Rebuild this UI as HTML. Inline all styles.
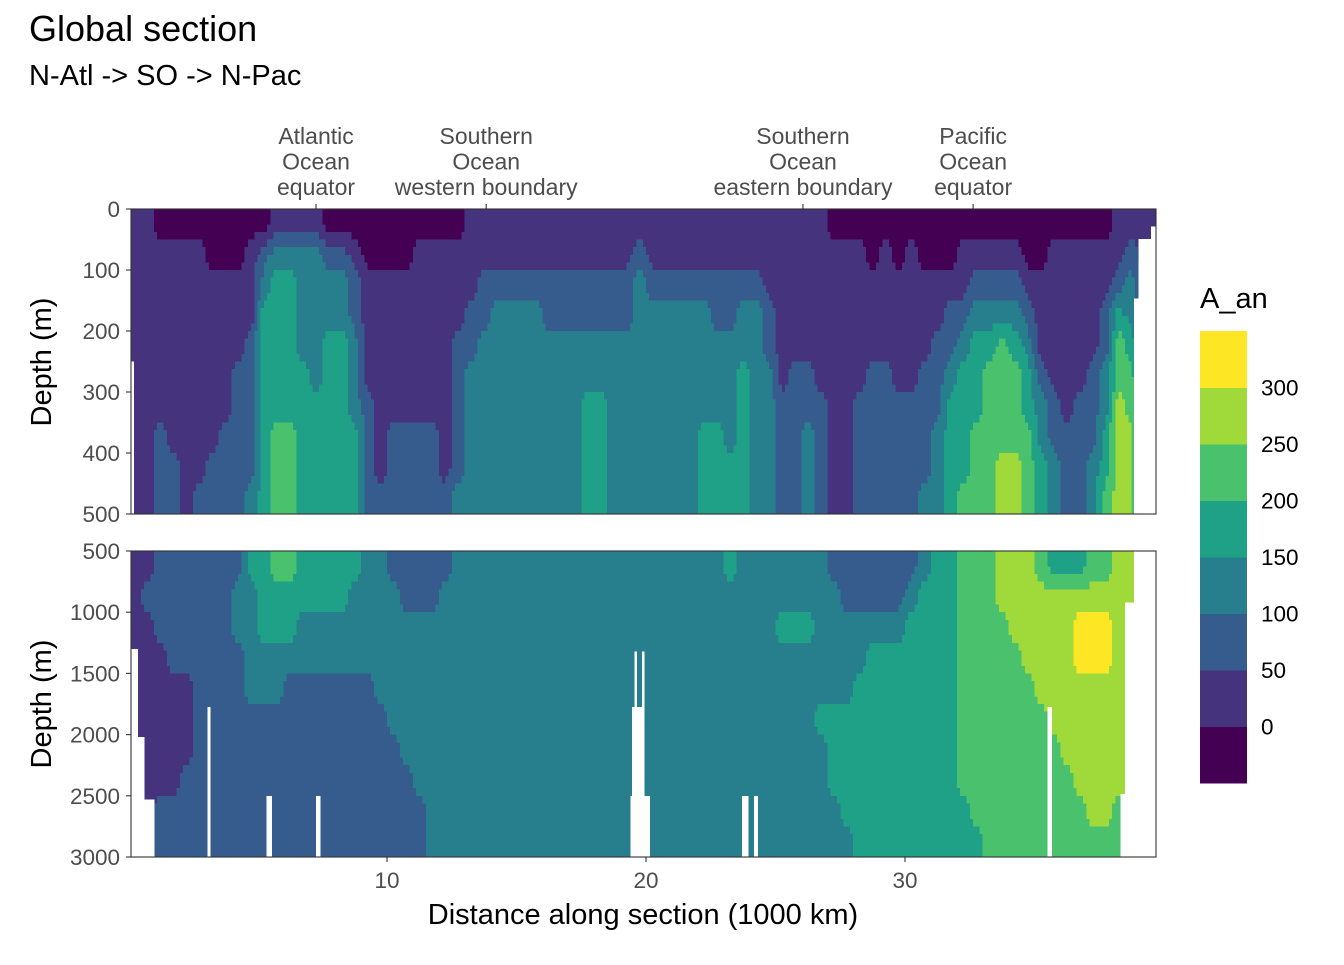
<!DOCTYPE html>
<html><head><meta charset="utf-8"><style>
html,body{margin:0;padding:0;background:#fff;}
body{width:1344px;height:960px;overflow:hidden;font-family:"Liberation Sans",sans-serif;}
</style></head><body>
<svg id="chart" width="1344" height="960" xmlns="http://www.w3.org/2000/svg" font-family="Liberation Sans, sans-serif">
<text x="29" y="41" font-size="36" fill="#000">Global section</text>
<text x="29" y="85" font-size="29" fill="#000">N-Atl -&gt; SO -&gt; N-Pac</text>
<g id="panels"></g>
<text x="643" y="924" font-size="29" text-anchor="middle" fill="#000">Distance along section (1000 km)</text>
<text transform="translate(51,362) rotate(-90)" font-size="29" text-anchor="middle" fill="#000">Depth (m)</text>
<text transform="translate(51,704) rotate(-90)" font-size="29" text-anchor="middle" fill="#000">Depth (m)</text>
<g id="legend"></g>
</svg>
<script>
// ---- data ----
const palette = ["#440154","#46337E","#365C8D","#277F8E","#1FA187","#4AC16D","#9FDA3A","#FDE725"];
const binLabels = [0,50,100,150,200,250,300];
// level value (A_an bin centre) for each code
const binValues = [-25,25,75,125,175,225,275,325];
const colStep = 0.5; // 1000 km per column
// upper panel columns (0-500 m, 50 m rows), codes = A_an bin
const topCols = ["1111111111","1111111111","0111111222","0111111122","0111111111","0111111112","0011111122","0011111222","0011122222","0111222223",
"0234444444","1344444555","1344444555","1333344444","1333334444","0233444444","0233444444","0122333444","0011112222","0011111112",
"0011111222","0011111222","0111111222","0111111222","0111111112","0111222223","1112233333","1122333333","1123333333","1123333333",
"1123333333","1123333333","1122333333","1122333333","1122333333","1122334444","1122334444","1122333333","1122333333","1233333333",
"1123333333","1123333333","1123333333","1123333333","1123333444","1122333444","1122333344","1123344444","1123333333","1112233333",
"1111112222","1111122222","1111122333","1111112222","0111111111","0111111111","0111112222","0011122222","0111122222","0011112222",
"0111112222","0011122223","0011222333","0012234444","0112344445","0123444555","0123455555","0123555566","0123455566","0012344555",
"0011123344","0111112233","0111111222","0111112222","0111122233","0112233445","1124556666","1233455666","1111111111","1111111111"];
// lower panel columns (500-3000 m, 250 m rows)
const botCols = ["1111111111","1211111111","2221111122","2222111122","2222111222","2222222222","2222222222","2222222222","2332222222","4333322222",
"4443322222","5443322222","5443222222","4433222222","4433222222","4433222222","4433222222","4333222222","3333222222","3333322222",
"2333332222","2233333222","2233333322","2233333333","2333333333","3333333333","3333333333","3333333333","3333333333","3333333333",
"3333333333","3333333333","3333333333","3333333333","3333333333","3333333333","3333333333","3333333333","3333333333","3333333333",
"3333333333","3333333333","3333333333","3333333333","3333333333","3333333333","4333333333","3333333333","3333333333","3333333333",
"3343333333","3343333333","3343333333","3333343333","2333344433","2233344443","2233444444","2234444444","2234444444","2234444444",
"2344444444","3444444444","4444444444","4444444444","5555555544","5555555554","5555555555","6655555555","6665555555","6666555555",
"5666655555","4666665555","4666666555","4677666655","5677666665","5677666665","6666666655","6666666655","6666666666","6666666666"];
// missing-data gaps: [km start, km end, depth start]
const topGaps = [[0,0.23,250],[38.85,39.02,147],[39.02,39.5,49],[39.5,40,29]];
const botGaps = [[0,0.38,1300],[0,0.64,2020],[0,1.02,2530],[3.06,3.18,1775],[5.35,5.56,2500],[7.26,7.44,2500],
[19.4,20.15,2500],[19.45,19.9,1775],[19.55,19.65,1320],[19.85,19.95,1320],[23.7,23.95,2500],[24.17,24.33,2500],
[35.5,35.68,1775],[38.5,38.84,920],[38.33,38.5,2485],[38.84,40,500]];
const topTicks = [0,100,200,300,400,500];
const botTicks = [500,1000,1500,2000,2500,3000];
const xTicks = [10,20,30];
const secLabels = [["Atlantic","Ocean","equator"],["Southern","Ocean","western boundary"],["Southern","Ocean","eastern boundary"],["Pacific","Ocean","equator"]];
const secPos = [7.26,13.83,26.06,32.63];

// ---- scales ----
const PX0=131, PX1=1156;
const xs = km => 128 + km*25.9;
const panels = [
 {name:"upper",y0:209,y1:514,d0:0,d1:500,cols:topCols,gaps:topGaps,ticks:topTicks,dz:50},
 {name:"lower",y0:551,y1:857,d0:500,d1:3000,cols:botCols,gaps:botGaps,ticks:botTicks,dz:250}
];
const NS="http://www.w3.org/2000/svg";
function mk(tag,attrs,parent){const e=document.createElementNS(NS,tag);for(const k in attrs)e.setAttribute(k,attrs[k]);parent.appendChild(e);return e;}
function binIndex(v){let i=0;while(i<binLabels.length && v>=binLabels[i])i++;return i;}
const SUB=4;
const root=document.getElementById('panels');
panels.forEach(p=>{
  const ys = d => p.y0 + (d-p.d0)*(p.y1-p.y0)/(p.d1-p.d0);
  const g=mk('g',{},root);
  
  
  const cid='clip-'+p.name;
  const cp=mk('clipPath',{id:cid},g);mk('rect',{x:PX0,y:p.y0,width:PX1-PX0,height:p.y1-p.y0},cp);
  mk('rect',{x:PX0,y:p.y0,width:PX1-PX0,height:p.y1-p.y0,fill:'#fff'},g);
  const grid=mk('g',{},g);
  p.ticks.forEach((t,k)=>{mk('line',{x1:PX0,x2:PX1,y1:ys(t),y2:ys(t),stroke:'#EBEBEB','stroke-width':1.2},grid);
    if(k<p.ticks.length-1){const ym=(ys(t)+ys(p.ticks[k+1]))/2;mk('line',{x1:PX0,x2:PX1,y1:ym,y2:ym,stroke:'#F2F2F2','stroke-width':0.6},grid);}});
  const cells=mk('g',{'clip-path':'url(#'+cid+')','shape-rendering':'crispEdges'},g);
  const nC=p.cols.length, nR=p.cols[0].length;
  const val=(c,r)=>binValues[+p.cols[Math.max(0,Math.min(nC-1,c))][Math.max(0,Math.min(nR-1,r))]];
  function interp(fc,fr){
    const c0=Math.floor(fc), r0=Math.floor(fr), tc=fc-c0, tr=fr-r0;
    return val(c0,r0)*(1-tc)*(1-tr)+val(c0+1,r0)*tc*(1-tr)+val(c0,r0+1)*(1-tc)*tr+val(c0+1,r0+1)*tc*tr;
  }
  const nSR=nR*SUB, nSC=nC*SUB;
  for(let sr=0;sr<nSR;sr++){
    const fr=(sr+0.5)/SUB-0.5;
    const d=p.d0+sr*p.dz/SUB;
    const y=ys(d), h=ys(d+p.dz/SUB)-y;
    let runStart=0, runBin=-1;
    for(let sc=0;sc<=nSC;sc++){
      let b=-2;
      if(sc<nSC){const fc=(sc+0.5)/SUB-0.5; b=binIndex(interp(fc,fr));}
      if(b!==runBin){
        if(runBin>=0){
          const x=xs(runStart*colStep/SUB), x2=xs(sc*colStep/SUB);
          const c=mk('rect',{x:x.toFixed(2),y:y.toFixed(2),width:(x2-x+0.5).toFixed(2),height:(h+0.5).toFixed(2),fill:palette[runBin]},cells);
          
          
        }
        runStart=sc; runBin=b;
      }
    }
  }
  p.gaps.forEach(gp=>{
    const x=xs(gp[0]), w=xs(gp[1])-x;
    const r=mk('rect',{x:x,y:ys(gp[2]),width:w,height:p.y1-ys(gp[2]),fill:'#fff'},cells);
    
    
  });
  mk('rect',{x:PX0,y:p.y0,width:PX1-PX0,height:p.y1-p.y0,fill:'none',stroke:'#333','stroke-width':1.1},g);
  p.ticks.forEach(t=>{
    mk('line',{x1:PX0-5,x2:PX0,y1:ys(t),y2:ys(t),stroke:'#333','stroke-width':1.1},g);
    const tx=mk('text',{x:PX0-11,y:ys(t)+8,'font-size':22.5,'text-anchor':'end',fill:'#4D4D4D'},g);
    tx.textContent=t;
    
    
  });
});
const ax=mk('g',{},root);


xTicks.forEach(t=>{
  mk('line',{x1:xs(t),x2:xs(t),y1:857,y2:862,stroke:'#333','stroke-width':1.1},ax);
  const tx=mk('text',{x:xs(t),y:888,'font-size':22.5,'text-anchor':'middle',fill:'#4D4D4D'},ax);
  tx.textContent=t;
  
  
});
const sec=mk('g',{},root);


secPos.forEach((k,i)=>{
  mk('line',{x1:xs(k),x2:xs(k),y1:204,y2:209,stroke:'#333','stroke-width':1.1},sec);
  secLabels[i].forEach((s,j)=>{
    const tx=mk('text',{x:xs(k),y:144+j*25.5,'font-size':23,'text-anchor':'middle',fill:'#4D4D4D'},sec);
    tx.textContent=s;
    
    
  });
});
// legend
const lg=document.getElementById('legend');
const lt=mk('text',{x:1200,y:308,'font-size':29,fill:'#000'},lg);lt.textContent='A_an';


const LB=783, LH=56.5;
palette.forEach((c,i)=>{
  const r=mk('rect',{x:1200,y:LB-(i+1)*LH,width:47,height:LH+0.5,fill:c},lg);
  
  
});
binLabels.forEach((b,i)=>{
  const tx=mk('text',{x:1261,y:LB-(i+1)*LH+8,'font-size':22.5,fill:'#000'},lg);
  tx.textContent=b;
  
  
});
</script>
</body></html>
